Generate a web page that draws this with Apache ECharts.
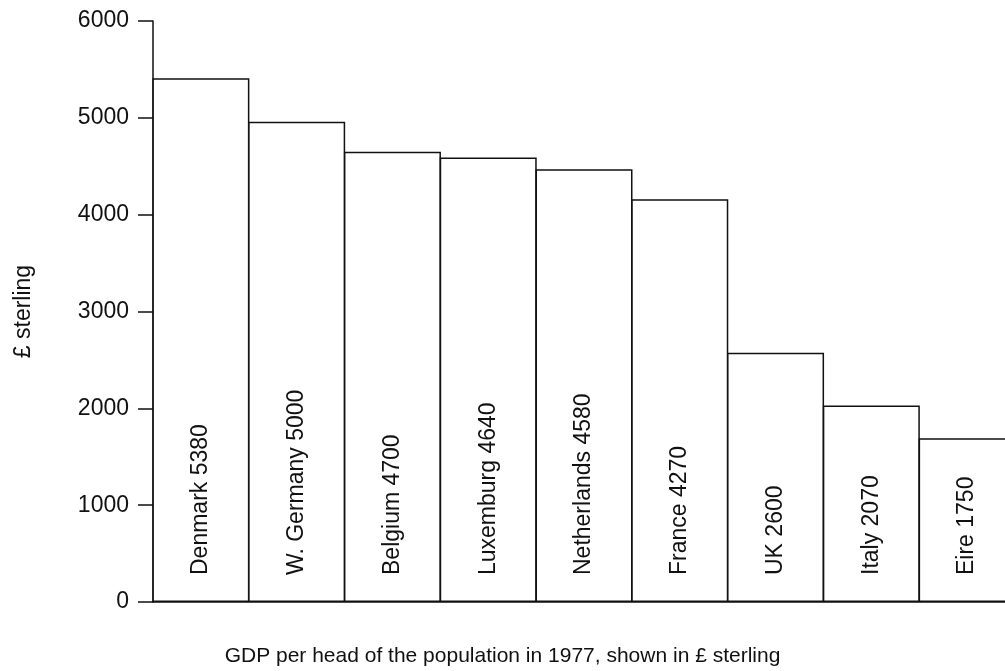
<!DOCTYPE html>
<html>
<head>
<meta charset="utf-8">
<script src="https://cdn.jsdelivr.net/npm/echarts@6/dist/echarts.min.js"></script>
<style>
html,body{margin:0;padding:0;background:#fff;}
#chart{width:1005px;height:671px;}
</style>
</head>
<body>
<div id="chart"></div>
<script>
const countries = ['Denmark', 'W. Germany', 'Belgium', 'Luxemburg', 'Netherlands', 'France', 'UK', 'Italy', 'Eire'];
const labelValues = [5380, 5000, 4700, 4640, 4580, 4270, 2600, 2070, 1750];
const barHeights = [5410, 4960, 4650, 4590, 4470, 4160, 2575, 2030, 1690];
const yTicks = [0, 1000, 2000, 3000, 4000, 5000, 6000];
const yAxisName = '£ sterling';
const caption = 'GDP per head of the population in 1977, shown in £ sterling';

const FONT = '"Liberation Sans", Arial, Helvetica, sans-serif';
const INK = '#111111';

const chart = echarts.init(document.getElementById('chart'), null, {renderer: 'canvas'});
chart.setOption({
  animation: false,
  backgroundColor: '#ffffff',
  title: {
    text: caption,
    left: 'center',
    top: 641,
    textStyle: {fontFamily: FONT, fontSize: 21, fontWeight: 'normal', color: INK}
  },
  grid: {left: 153, top: 21, width: 862, height: 581, outerBoundsMode: 'none', containLabel: false},
  xAxis: {
    type: 'category',
    data: countries,
    boundaryGap: true,
    axisLine: {show: true, lineStyle: {color: INK, width: 1.5}},
    axisTick: {show: false},
    axisLabel: {show: false},
    splitLine: {show: false}
  },
  yAxis: {
    type: 'value',
    min: yTicks[0],
    max: yTicks[yTicks.length - 1],
    interval: yTicks[1] - yTicks[0],
    name: yAxisName,
    nameLocation: 'middle',
    nameGap: 118,
    nameTextStyle: {fontFamily: FONT, fontSize: 23, color: INK},
    axisLine: {show: true, lineStyle: {color: INK, width: 1.5}},
    axisTick: {show: true, length: 15, inside: false, lineStyle: {color: INK, width: 1.5}},
    axisLabel: {fontFamily: FONT, fontSize: 23, color: INK, margin: 24, formatter: function (v) { return String(v); }},
    splitLine: {show: false}
  },
  series: [{
    type: 'bar',
    data: barHeights,
    barWidth: 97,
    barGap: '0%',
    barCategoryGap: '0%',
    itemStyle: {color: '#ffffff', borderColor: INK, borderWidth: 1.5},
    label: {
      show: true,
      position: 'insideBottom',
      distance: 27,
      rotate: 90,
      align: 'left',
      verticalAlign: 'middle',
      fontFamily: FONT,
      fontSize: 23,
      color: INK,
      formatter: function (p) { return countries[p.dataIndex] + ' ' + labelValues[p.dataIndex]; }
    }
  }]
});
</script>
</body>
</html>
